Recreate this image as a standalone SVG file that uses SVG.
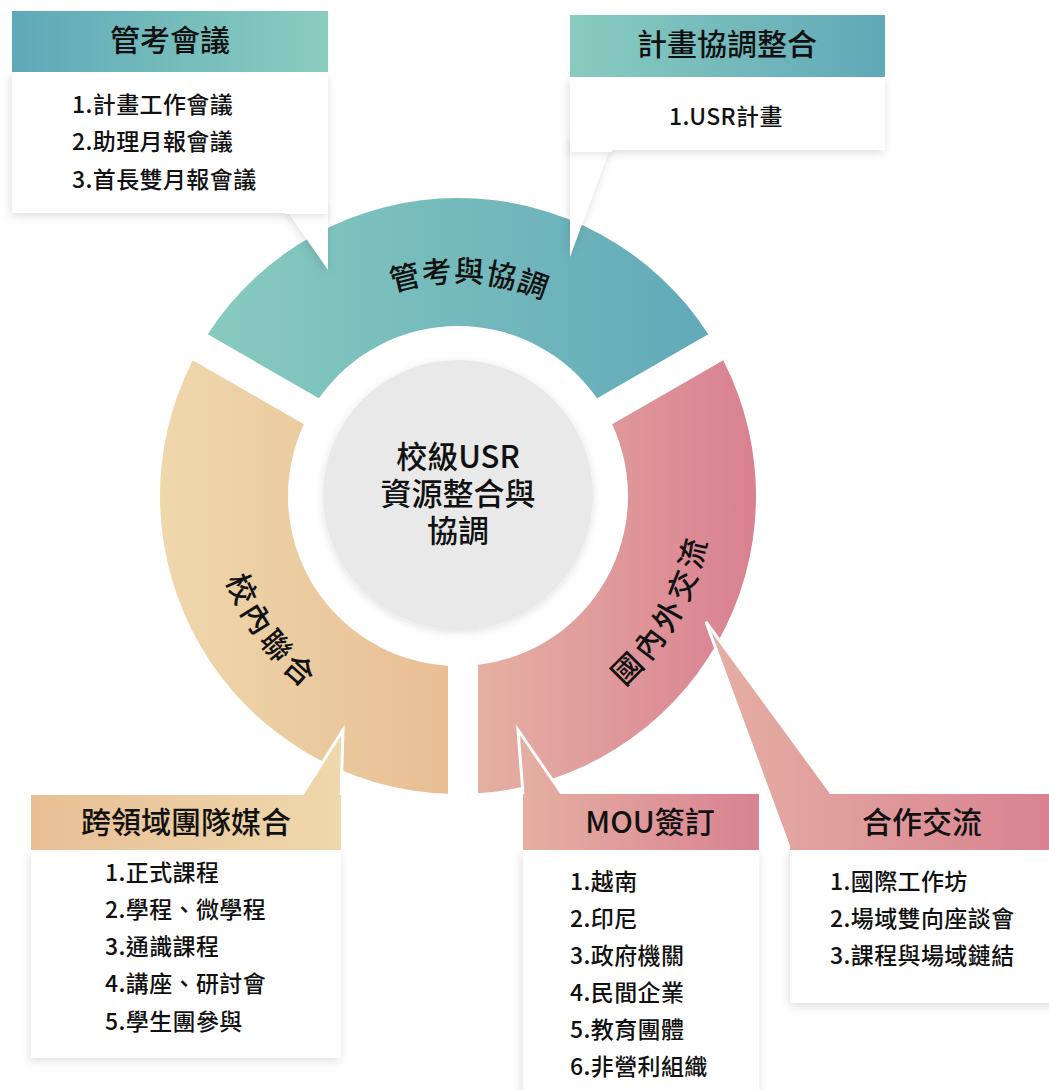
<svg xmlns="http://www.w3.org/2000/svg" width="1049" height="1090" viewBox="0 0 1049 1090">
<style>
  text { font-family: "Noto Sans CJK TC", "Noto Sans", sans-serif; fill: #111; font-weight: 500; }
  .title { font-size: 30px; text-anchor: middle; }
  .item { font-size: 23px; letter-spacing: 0.4px; }
  .ring { font-size: 30px; text-anchor: middle; }
  .center { font-size: 31px; text-anchor: middle; }
  .body { fill: #ffffff; }
  .ctail { stroke: #ffffff; stroke-width: 3; stroke-linejoin: miter; }
</style>
<defs>
  <filter id="sh" x="-20%" y="-20%" width="140%" height="140%">
    <feDropShadow dx="-1" dy="3" stdDeviation="5" flood-color="#000" flood-opacity="0.13"/>
  </filter>
  <filter id="shc" x="-20%" y="-20%" width="140%" height="140%">
    <feDropShadow dx="0" dy="2" stdDeviation="4" flood-color="#000" flood-opacity="0.12"/>
  </filter>
  <linearGradient id="gTeal" gradientUnits="userSpaceOnUse" x1="207" y1="0" x2="725" y2="0">
    <stop offset="0" stop-color="#87CBBF"/><stop offset="1" stop-color="#61A8B9"/>
  </linearGradient>
  <linearGradient id="gOrange" gradientUnits="userSpaceOnUse" x1="160" y1="0" x2="448" y2="0">
    <stop offset="0" stop-color="#EFD8AC"/><stop offset="1" stop-color="#E8BE94"/>
  </linearGradient>
  <linearGradient id="gPink" gradientUnits="userSpaceOnUse" x1="478" y1="0" x2="756" y2="0">
    <stop offset="0" stop-color="#E5B0A3"/><stop offset="1" stop-color="#D98091"/>
  </linearGradient>
  <linearGradient id="hGk" gradientUnits="userSpaceOnUse" x1="12" y1="0" x2="328" y2="0">
    <stop offset="0" stop-color="#5FA8B8"/><stop offset="1" stop-color="#89CDBF"/>
  </linearGradient>
  <linearGradient id="hPc" gradientUnits="userSpaceOnUse" x1="570" y1="0" x2="885" y2="0">
    <stop offset="0" stop-color="#88CCBF"/><stop offset="1" stop-color="#61A8B8"/>
  </linearGradient>
  <linearGradient id="hCt" gradientUnits="userSpaceOnUse" x1="31" y1="0" x2="345" y2="0">
    <stop offset="0" stop-color="#E8BF95"/><stop offset="1" stop-color="#EFD8AC"/>
  </linearGradient>
  <linearGradient id="hMou" gradientUnits="userSpaceOnUse" x1="518" y1="0" x2="759" y2="0">
    <stop offset="0" stop-color="#E5B0A3"/><stop offset="1" stop-color="#D98291"/>
  </linearGradient>
  <linearGradient id="hCo" gradientUnits="userSpaceOnUse" x1="705" y1="0" x2="1049" y2="0">
    <stop offset="0" stop-color="#E5B0A3"/><stop offset="1" stop-color="#D98291"/>
  </linearGradient>
  <path id="arcTop" d="M 246.1 466.2 A 214 214 0 0 1 671.87 488.53"/>
  <path id="arcLeft" d="M 296.6 310.3 A 246 246 0 0 0 584.7 706.9"/>
  <path id="arcRight" d="M 354.7 726.9 A 253 253 0 0 0 599.8 286.5"/>
</defs>

<rect x="0" y="0" width="1049" height="1090" fill="#ffffff"/>

<g id="node-ring-top">
  <path d="M 207.75 334.2 A 298 298 0 0 1 708.25 334.2 L 597.15 398.34 A 170 170 0 0 0 318.85 398.34 Z" fill="url(#gTeal)"/>
  <text class="ring" letter-spacing="1"><textPath href="#arcTop" startOffset="50%">管考與協調</textPath></text>
</g>
<g id="node-ring-left">
  <path d="M 448 793.83 A 298 298 0 0 1 192.75 360.18 L 303.85 424.32 A 170 170 0 0 0 448 665.71 Z" fill="url(#gOrange)"/>
  <text class="ring" letter-spacing="5"><textPath href="#arcLeft" startOffset="50%">校內聯合</textPath></text>
</g>
<g id="node-ring-right">
  <path d="M 723.25 360.18 A 298 298 0 0 1 478 793.33 L 478 664.82 A 170 170 0 0 0 612.15 424.32 Z" fill="url(#gPink)"/>
  <text class="ring" letter-spacing="5"><textPath href="#arcRight" startOffset="50%">國內外交流</textPath></text>
</g>

<g id="node-center">
  <circle cx="458" cy="495" r="135" fill="#E9E9E9" filter="url(#shc)"/>
  <text class="center" x="458" y="468">校級USR<tspan x="458" dy="37">資源整合與</tspan><tspan x="458" dy="37">協調</tspan></text>
</g>

<g id="connectors">
  <polygon points="283,205 328,205 328,270" fill="#ffffff" filter="url(#sh)"/>
  <polygon points="570,140 613,140 570,257" fill="#ffffff" filter="url(#sh)"/>
  <polygon class="ctail" points="300,798 343,730 341,798" fill="url(#hCt)"/>
  <polygon class="ctail" points="523.3,798 518,730 564.8,798" fill="url(#hMou)"/>
  <polygon class="ctail" points="706,622 790,850 834.2,797" fill="url(#hCo)"/>
</g>

<g id="node-guankao-meeting">
  <rect class="body" x="12" y="72" width="316" height="141" filter="url(#sh)"/>
  <rect x="12" y="11" width="316" height="61" fill="url(#hGk)"/>
  <polygon points="284,212 328,212 328,214 285,214" fill="#ffffff"/>
  <text class="title" x="170" y="51">管考會議</text>
  <text class="item" x="72" y="113">1.計畫工作會議</text>
  <text class="item" x="72" y="150">2.助理月報會議</text>
  <text class="item" x="72" y="188">3.首長雙月報會議</text>
</g>

<g id="node-plan-coord">
  <rect class="body" x="570" y="77" width="315" height="73" filter="url(#sh)"/>
  <rect x="570" y="15" width="315" height="62" fill="url(#hPc)"/>
  <polygon points="570,149 613,149 612,152 570,152" fill="#ffffff"/>
  <text class="title" x="727" y="55">計畫協調整合</text>
  <text class="item" x="669" y="125">1.USR計畫</text>
</g>

<g id="node-cross-team">
  <rect class="body" x="31" y="850" width="310" height="208" filter="url(#sh)"/>
  <rect x="31" y="795" width="310" height="55" fill="url(#hCt)"/>
  <text class="title" x="186" y="833">跨領域團隊媒合</text>
  <text class="item" x="105" y="881">1.正式課程</text>
  <text class="item" x="105" y="918">2.學程、微學程</text>
  <text class="item" x="105" y="955">3.通識課程</text>
  <text class="item" x="105" y="992">4.講座、研討會</text>
  <text class="item" x="105" y="1030">5.學生團參與</text>
</g>

<g id="node-mou">
  <rect class="body" x="523" y="850" width="236" height="260" filter="url(#sh)"/>
  <rect x="523" y="794" width="236" height="56" fill="url(#hMou)"/>
  <text class="title" x="650" y="833">MOU簽訂</text>
  <text class="item" x="570" y="890">1.越南</text>
  <text class="item" x="570" y="927">2.印尼</text>
  <text class="item" x="570" y="964">3.政府機關</text>
  <text class="item" x="570" y="1001">4.民間企業</text>
  <text class="item" x="570" y="1038">5.教育團體</text>
  <text class="item" x="570" y="1075">6.非營利組織</text>
</g>

<g id="node-coop">
  <rect class="body" x="790" y="850" width="270" height="153" filter="url(#sh)"/>
  <rect x="790" y="794" width="270" height="56" fill="url(#hCo)"/>
  <text class="title" x="922" y="833">合作交流</text>
  <text class="item" x="830" y="890">1.國際工作坊</text>
  <text class="item" x="830" y="927">2.場域雙向座談會</text>
  <text class="item" x="830" y="964">3.課程與場域鏈結</text>
</g>
</svg>
